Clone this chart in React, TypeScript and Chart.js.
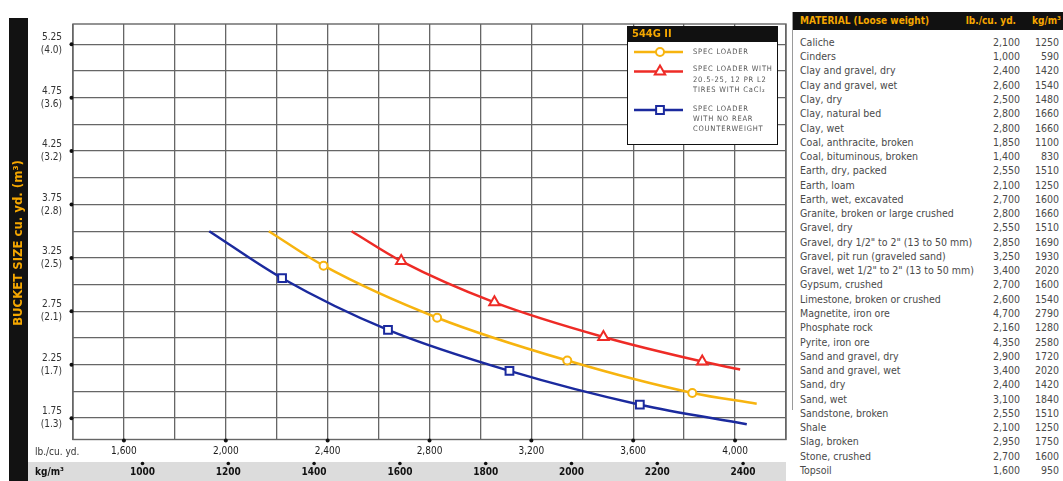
import React, { useEffect, useRef } from "react";
import { Chart, registerables } from "chart.js";

Chart.register(...registerables);

const FONT = '"Liberation Sans Narrow", "Arial Narrow", "DejaVu Sans Condensed", "Liberation Sans", sans-serif';

// ---- data ----
const SERIES_NAMES = ["SPEC LOADER", "SPEC LOADER WITH 20.5-25, 12 PR L2 TIRES WITH CaCl2", "SPEC LOADER WITH NO REAR COUNTERWEIGHT"];

const YELLOW_LB = [2169, 2384, 2830, 3341, 3832, 4085];
const YELLOW_CUYD = [3.5, 3.177, 2.69, 2.289, 1.986, 1.885];

const RED_LB = [2494, 2689, 3055, 3483, 3871, 4020];
const RED_CUYD = [3.5, 3.22, 2.834, 2.51, 2.28, 2.205];

const BLUE_LB = [1935, 2221, 2637, 3114, 3626, 4046];
const BLUE_CUYD = [3.5, 3.06, 2.576, 2.192, 1.876, 1.693];

const MARKER_RADIUS = [0, 1, 1, 1, 1, 0];

const Y_TICK_CUYD = [1.75, 2.25, 2.75, 3.25, 3.75, 4.25, 4.75, 5.25];
const Y_TICK_M3 = ["(1.3)", "(1.7)", "(2.1)", "(2.5)", "(2.8)", "(3.2)", "(3.6)", "(4.0)"];
const Y_GRID = [1.75, 2.0, 2.25, 2.5, 2.75, 3.0, 3.25, 3.5, 3.75, 4.0, 4.25, 4.5, 4.75, 5.0, 5.25];

const X_GRID_LB = [1400, 1600, 1800, 2000, 2200, 2400, 2600, 2800, 3000, 3200, 3400, 3600, 3800, 4000, 4200];
const X_LABEL_LB = [1600, 2000, 2400, 2800, 3200, 3600, 4000];
const X_TICK_KG = [1000, 1200, 1400, 1600, 1800, 2000, 2200, 2400];

const LEGEND_TITLE = "544G II";
const LEGEND_LINES = [
  ["SPEC LOADER"],
  ["SPEC LOADER WITH", "20.5-25, 12 PR L2", "TIRES WITH CaCl\u2082"],
  ["SPEC LOADER", "WITH NO REAR", "COUNTERWEIGHT"],
];

const MATERIALS = [
  "Caliche", "Cinders", "Clay and gravel, dry", "Clay and gravel, wet", "Clay, dry", "Clay, natural bed", "Clay, wet",
  "Coal, anthracite, broken", "Coal, bituminous, broken", "Earth, dry, packed", "Earth, loam", "Earth, wet, excavated",
  "Granite, broken or large crushed", "Gravel, dry", "Gravel, dry 1/2\" to 2\" (13 to 50 mm)", "Gravel, pit run (graveled sand)",
  "Gravel, wet 1/2\" to 2\" (13 to 50 mm)", "Gypsum, crushed", "Limestone, broken or crushed", "Magnetite, iron ore",
  "Phosphate rock", "Pyrite, iron ore", "Sand and gravel, dry", "Sand and gravel, wet", "Sand, dry", "Sand, wet",
  "Sandstone, broken", "Shale", "Slag, broken", "Stone, crushed", "Topsoil",
];
const MATERIAL_LB = ["2,100", "1,000", "2,400", "2,600", "2,500", "2,800", "2,800", "1,850", "1,400", "2,550", "2,100", "2,700",
  "2,800", "2,550", "2,850", "3,250", "3,400", "2,700", "2,600", "4,700", "2,160", "4,350", "2,900", "3,400", "2,400", "3,100",
  "2,550", "2,100", "2,950", "2,700", "1,600"];
const MATERIAL_KG = ["1250", "590", "1420", "1540", "1480", "1660", "1660", "1100", "830", "1510", "1250", "1600", "1660", "1510",
  "1690", "1930", "2020", "1600", "1540", "2790", "1280", "2580", "1720", "2020", "1420", "1840", "1510", "1250", "1750", "1600", "950"];

const COLORS = ["#f7b40f", "#ee2b26", "#1b2a9e"];
const STYLES: any[] = ["circle", "triangle", "rect"];
const RADII = [4, 6, 5.5];

function drawMarker(ctx: CanvasRenderingContext2D, style: string, x: number, y: number, r: number, color: string) {
  ctx.save();
  ctx.beginPath();
  if (style === "circle") {
    ctx.arc(x, y, r, 0, Math.PI * 2);
  } else if (style === "triangle") {
    ctx.moveTo(x, y - r);
    ctx.lineTo(x + r * Math.sin(Math.PI / 3), y + r / 2);
    ctx.lineTo(x - r * Math.sin(Math.PI / 3), y + r / 2);
    ctx.closePath();
  } else {
    const s = r * Math.SQRT1_2;
    ctx.rect(x - s, y - s, 2 * s, 2 * s);
  }
  ctx.fillStyle = "#fff";
  ctx.fill();
  ctx.lineWidth = 2;
  ctx.strokeStyle = color;
  ctx.stroke();
  ctx.restore();
}

const decorPlugin = {
  id: "decor",
  beforeDraw(chart: any) {
    const { ctx, chartArea: ca } = chart;
    ctx.save();
    ctx.fillStyle = "#fff";
    ctx.fillRect(0, 0, chart.width, chart.height);
    // kg band
    ctx.fillStyle = "#dcdcdc";
    ctx.fillRect(28, 462, ca.right - 28, chart.height - 462);
    // black side bar
    ctx.fillStyle = "#121212";
    ctx.fillRect(9, 18, 19, chart.height - 18);
    ctx.translate(19, 243);
    ctx.rotate(-Math.PI / 2);
    ctx.fillStyle = "#f5a700";
    ctx.font = `bold 13px ${FONT}`;
    ctx.textAlign = "center";
    ctx.textBaseline = "middle";
    ctx.fillText("BUCKET SIZE cu. yd. (m\u00b3)", 0, 0);
    ctx.restore();
  },
  beforeDatasetsDraw(chart: any) {
    const { ctx, chartArea: ca } = chart;
    ctx.save();
    ctx.strokeStyle = "#666";
    ctx.lineWidth = 1.4;
    ctx.strokeRect(ca.left, ca.top, ca.right - ca.left, ca.bottom - ca.top);
    ctx.restore();
  },
  afterDraw(chart: any) {
    const { ctx, chartArea: ca, scales } = chart;
    ctx.save();
    ctx.fillStyle = "#111";
    // y tick dots
    Y_TICK_CUYD.forEach((v) => {
      const y = scales.y.getPixelForValue(v);
      ctx.beginPath();
      ctx.arc(ca.left - 1.5, y, 2, 0, Math.PI * 2);
      ctx.fill();
    });
    // lb dots
    X_LABEL_LB.forEach((v) => {
      const x = scales.x.getPixelForValue(v);
      ctx.beginPath();
      ctx.arc(x, ca.bottom + 1, 2, 0, Math.PI * 2);
      ctx.fill();
    });
    // kg dots
    X_TICK_KG.forEach((v) => {
      const x = scales.x2.getPixelForValue(v);
      ctx.beginPath();
      ctx.arc(x, 463.5, 1.8, 0, Math.PI * 2);
      ctx.fill();
    });
    // axis captions
    ctx.font = `10px ${FONT}`;
    ctx.fillStyle = "#333";
    ctx.textBaseline = "middle";
    ctx.textAlign = "left";
    ctx.fillText("lb./cu. yd.", 35, 452);
    ctx.font = `bold 10px ${FONT}`;
    ctx.fillStyle = "#111";
    ctx.fillText("kg/m\u00b3", 35, 472);

    // legend box
    const lx = 627, ly = 26, lw = 150, lh = 118;
    ctx.fillStyle = "#fff";
    ctx.fillRect(lx, ly, lw, lh);
    ctx.strokeStyle = "#111";
    ctx.lineWidth = 1;
    ctx.strokeRect(lx + 0.5, ly + 0.5, lw, lh);
    ctx.fillStyle = "#111";
    ctx.fillRect(lx, ly, lw + 1, 16);
    ctx.fillStyle = "#f5a700";
    ctx.font = `bold 11px ${FONT}`;
    ctx.fillText(LEGEND_TITLE, lx + 5, ly + 8.5);
    const lineYs = [52, 71.5, 110];
    const textYs = [[52], [69.5, 80, 90.5], [109.5, 119.5, 129.5]];
    LEGEND_LINES.forEach((lines, i) => {
      ctx.strokeStyle = COLORS[i];
      ctx.lineWidth = 2.5;
      ctx.beginPath();
      ctx.moveTo(634, lineYs[i]);
      ctx.lineTo(683, lineYs[i]);
      ctx.stroke();
      drawMarker(ctx, STYLES[i], 660, lineYs[i], RADII[i], COLORS[i]);
      ctx.fillStyle = "#555";
      ctx.font = `7.5px ${FONT}`;
      (ctx as any).letterSpacing = "0.8px";
      lines.forEach((t, j) => ctx.fillText(t, 693, textYs[i][j]));
      (ctx as any).letterSpacing = "0px";
    });
    ctx.restore();
  },
};

function makeDataset(i: number, xs: number[], ys: number[]) {
  return {
    label: SERIES_NAMES[i],
    data: xs.map((x, k) => ({ x, y: ys[k] })),
    borderColor: COLORS[i],
    backgroundColor: "#fff",
    borderWidth: 2.5,
    pointStyle: STYLES[i],
    pointRadius: MARKER_RADIUS.map((m) => m * RADII[i]),
    pointBorderWidth: 2,
    pointBorderColor: COLORS[i],
    pointBackgroundColor: "#fff",
    cubicInterpolationMode: "monotone" as const,
    xAxisID: "x",
    yAxisID: "y",
  };
}

function ChartCanvas() {
  const ref = useRef<HTMLCanvasElement>(null);
  useEffect(() => {
    if (!ref.current) return;
    const chart = new Chart(ref.current, {
      type: "line",
      data: {
        datasets: [
          makeDataset(0, YELLOW_LB, YELLOW_CUYD),
          makeDataset(1, RED_LB, RED_CUYD),
          makeDataset(2, BLUE_LB, BLUE_CUYD),
        ],
      },
      options: {
        animation: false,
        responsive: false,
        maintainAspectRatio: false,
        layout: { padding: { left: 0, right: 2, top: 11.5, bottom: 0 } },
        plugins: { legend: { display: false }, tooltip: { enabled: false }, title: { display: false } },
        scales: {
          x: {
            type: "linear",
            position: "bottom",
            weight: 0,
            min: 1400,
            max: 4200,
            afterBuildTicks: (s: any) => { s.ticks = X_GRID_LB.map((v) => ({ value: v })); },
            afterFit: (s: any) => { s.height = 22; },
            grid: { color: "#666", lineWidth: 1.3, drawTicks: false },
            border: { display: false },
            ticks: {
              autoSkip: false,
              maxRotation: 0,
              padding: 6,
              color: "#1a1a1a",
              font: { family: FONT, size: 10 },
              callback: (v: any) => (X_LABEL_LB.includes(Number(v)) ? Number(v).toLocaleString("en-US") : ""),
            },
          },
          x2: {
            type: "linear",
            position: "bottom",
            weight: 1,
            min: 838,
            max: 2500,
            afterBuildTicks: (s: any) => { s.ticks = X_TICK_KG.map((v) => ({ value: v })); },
            afterFit: (s: any) => { s.height = 19.5; },
            grid: { display: false, drawTicks: false },
            border: { display: false },
            ticks: {
              autoSkip: false,
              maxRotation: 0,
              padding: 5,
              color: "#111",
              font: { family: FONT, size: 10, weight: "bold" },
              callback: (v: any) => String(v),
            },
          },
          y: {
            type: "linear",
            min: 1.55,
            max: 5.44,
            afterBuildTicks: (s: any) => { s.ticks = Y_GRID.map((v) => ({ value: v })); },
            afterFit: (s: any) => { s.width = 73; },
            grid: { color: "#666", lineWidth: 1.3, drawTicks: false },
            border: { display: false },
            ticks: {
              autoSkip: false,
              padding: 11,
              color: "#333",
              font: { family: FONT, size: 10, lineHeight: 1.3 },
              callback: (v: any) => {
                const idx = Y_TICK_CUYD.findIndex((t) => Math.abs(t - Number(v)) < 1e-6);
                return idx >= 0 ? [Y_TICK_CUYD[idx].toFixed(2), Y_TICK_M3[idx]] : "";
              },
            },
          },
        },
      },
      plugins: [decorPlugin],
    });
    return () => chart.destroy();
  }, []);
  return <canvas ref={ref} width={792} height={481} style={{ width: 792, height: 481, display: "block" }} />;
}

function MaterialTable() {
  const rowH = 14.27;
  return (
    <div style={{ position: "absolute", left: 793, top: 12, width: 270, height: 469, fontFamily: FONT }}>
      <div style={{ position: "absolute", left: -1, top: 0, width: 1, height: 398, background: "#9a9a9a" }} />
      <div style={{ position: "absolute", left: 0, top: 0, width: 270, height: 18, background: "#111", color: "#f5a700", fontWeight: "bold", fontSize: 10, lineHeight: "18px" }}>
        <span style={{ position: "absolute", left: 7 }}>MATERIAL (Loose weight)</span>
        <span style={{ position: "absolute", right: 47 }}>lb./cu. yd.</span>
        <span style={{ position: "absolute", right: 2 }}>kg/m³</span>
      </div>
      {MATERIALS.map((m, i) => (
        <div key={m} style={{ position: "absolute", left: 0, top: 22.9 + i * rowH, width: 270, height: rowH, lineHeight: `${rowH}px`, fontSize: 10.5, color: "#4a4a4a", whiteSpace: "nowrap" }}>
          <span style={{ position: "absolute", left: 7 }}>{m}</span>
          <span style={{ position: "absolute", right: 43 }}>{MATERIAL_LB[i]}</span>
          <span style={{ position: "absolute", right: 4 }}>{MATERIAL_KG[i]}</span>
        </div>
      ))}
    </div>
  );
}

export default function App() {
  return (
    <div style={{ position: "absolute", left: 0, top: 0, width: 1063, height: 481, background: "#fff", overflow: "hidden" }}>
      <ChartCanvas />
      <MaterialTable />
    </div>
  );
}
